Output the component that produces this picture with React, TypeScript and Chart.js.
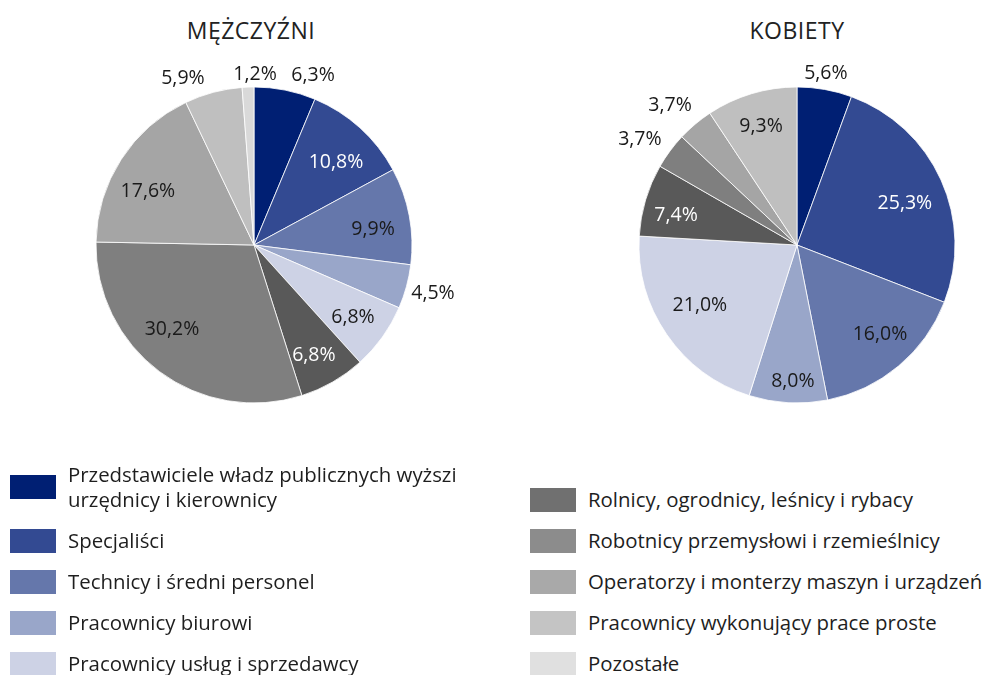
import React, { useEffect, useRef } from "react";
import { Chart, registerables } from "chart.js";

Chart.register(...registerables);

const categories = [
  "Przedstawiciele władz publicznych wyższi urzędnicy i kierownicy",
  "Specjaliści",
  "Technicy i średni personel",
  "Pracownicy biurowi",
  "Pracownicy usług i sprzedawcy",
  "Rolnicy, ogrodnicy, leśnicy i rybacy",
  "Robotnicy przemysłowi i rzemieślnicy",
  "Operatorzy i monterzy maszyn i urządzeń",
  "Pracownicy wykonujący prace proste",
  "Pozostałe",
];

const menTitle = "MĘŻCZYŹNI";
const womenTitle = "KOBIETY";

const menValues = [6.3, 10.8, 9.9, 4.5, 6.8, 6.8, 30.2, 17.6, 5.9, 1.2];
const womenValues = [5.6, 25.3, 16.0, 8.0, 21.0, 7.4, 3.7, 3.7, 9.3, 0];

const sliceColors = [
  "#001f73",
  "#334a92",
  "#6577ab",
  "#99a6c9",
  "#cdd2e5",
  "#595959",
  "#7f7f7f",
  "#a5a5a5",
  "#bfbfbf",
  "#d9d9d9",
];

const legendColors = [
  "#001f73",
  "#334a92",
  "#6577ab",
  "#99a6c9",
  "#cdd2e5",
  "#707070",
  "#8c8c8c",
  "#a9a9a9",
  "#c4c4c4",
  "#e0e0e0",
];

// label styling (radius factor relative to outer radius, angular nudge in degrees, colour)
const menLabelRadius = [1.14, 0.743, 0.761, 1.171, 0.771, 0.787, 0.739, 0.756, 1.154, 1.089];
const menLabelShift = [7.8, 2.2, 2.5, -0.6, 0, 1.1, 7.9, -5.4, -8.0, 2.5];
const menLabelColors = ["#1a1a1a", "#ffffff", "#1a1a1a", "#1a1a1a", "#1a1a1a", "#ffffff", "#1a1a1a", "#1a1a1a", "#1a1a1a", "#1a1a1a"];

const womenLabelRadius = [1.11, 0.733, 0.766, 0.855, 0.722, 0.79, 1.2, 1.2, 0.79, 1.1];
const womenLabelShift = [-0.6, 3.0, -3.3, -1.5, 2.9, -2.2, -2.5, -1.9, 0, 0];
const womenLabelColors = ["#1a1a1a", "#ffffff", "#1a1a1a", "#1a1a1a", "#1a1a1a", "#ffffff", "#1a1a1a", "#1a1a1a", "#1a1a1a", "#1a1a1a"];

const FONT = "'Open Sans', 'Noto Sans', sans-serif";

const fmt = (v: number) => v.toFixed(1).replace(".", ",") + "%";

type PieProps = {
  values: number[];
  labelRadius: number[];
  labelShift: number[];
  labelColors: string[];
  left: number;
  top: number;
  width: number;
  height: number;
};

function Pie({ values, labelRadius, labelShift, labelColors, left, top, width, height }: PieProps) {
  const ref = useRef<HTMLCanvasElement | null>(null);
  useEffect(() => {
    if (!ref.current) return;
    const labelPlugin = {
      id: "sliceLabels",
      afterDatasetsDraw(chart: any) {
        const ctx = chart.ctx;
        const meta = chart.getDatasetMeta(0);
        ctx.save();
        ctx.font = "19.5px " + FONT;
        ctx.textAlign = "center";
        ctx.textBaseline = "middle";
        meta.data.forEach((arc: any, i: number) => {
          const v = values[i];
          if (!v) return;
          const p = arc.getProps(["x", "y", "startAngle", "endAngle", "outerRadius"], true);
          const a = (p.startAngle + p.endAngle) / 2 + (labelShift[i] * Math.PI) / 180;
          const r = p.outerRadius * labelRadius[i];
          ctx.fillStyle = labelColors[i];
          ctx.fillText(fmt(v), p.x + Math.cos(a) * r, p.y + Math.sin(a) * r + 1);
        });
        ctx.restore();
      },
    };
    const chart = new Chart(ref.current, {
      type: "pie",
      data: {
        labels: categories,
        datasets: [
          {
            data: values,
            backgroundColor: sliceColors,
            borderColor: "#ffffff",
            borderWidth: 0.8,
            radius: 158,
          } as any,
        ],
      },
      options: {
        animation: false,
        responsive: false,
        devicePixelRatio: 1,
        layout: { padding: 0 },
        plugins: {
          legend: { display: false },
          tooltip: { enabled: false },
          title: { display: false },
        },
      },
      plugins: [labelPlugin],
    });
    return () => chart.destroy();
  }, []);
  return (
    <canvas
      ref={ref}
      width={width}
      height={height}
      style={{ position: "absolute", left, top, width, height }}
    />
  );
}

function LegendItem({ idx }: { idx: number }) {
  const lines = idx === 0 ? ["Przedstawiciele władz publicznych wyższi", "urzędnicy i kierownicy"] : [categories[idx]];
  return (
    <div style={{ display: "flex", alignItems: "center", marginBottom: 16 }}>
      <div style={{ width: 46, height: 24, background: legendColors[idx], flex: "0 0 auto" }} />
      <div style={{ marginLeft: 12, lineHeight: "25px", fontSize: 20.4, color: "#1e1e1e", whiteSpace: "nowrap" }}>
        {lines.map((l, k) => (
          <div key={k}>{l}</div>
        ))}
      </div>
    </div>
  );
}

export default function App() {
  useEffect(() => {
    document.body.style.margin = "0";
  }, []);
  const titleStyle: React.CSSProperties = {
    position: "absolute",
    top: 14,
    fontSize: 23,
    color: "#222",
    width: 300,
    textAlign: "center",
    lineHeight: "32px",
    letterSpacing: 0.5,
  };
  return (
    <div
      style={{
        position: "absolute",
        left: 0,
        top: 0,
        width: 988,
        height: 675,
        overflow: "hidden",
        background: "#fff",
        fontFamily: FONT,
      }}
    >
      <div style={{ ...titleStyle, left: 251 - 150 }}>{menTitle}</div>
      <div style={{ ...titleStyle, left: 797 - 150 }}>{womenTitle}</div>
      <Pie
        values={menValues}
        labelRadius={menLabelRadius}
        labelShift={menLabelShift}
        labelColors={menLabelColors}
        left={24}
        top={25}
        width={460}
        height={440}
      />
      <Pie
        values={womenValues}
        labelRadius={womenLabelRadius}
        labelShift={womenLabelShift}
        labelColors={womenLabelColors}
        left={607}
        top={25}
        width={380}
        height={440}
      />
      <div style={{ position: "absolute", left: 10, top: 462 }}>
        {[0, 1, 2, 3, 4].map((i) => (
          <LegendItem key={i} idx={i} />
        ))}
      </div>
      <div style={{ position: "absolute", left: 530, top: 487 }}>
        {[5, 6, 7, 8, 9].map((i) => (
          <LegendItem key={i} idx={i} />
        ))}
      </div>
    </div>
  );
}
